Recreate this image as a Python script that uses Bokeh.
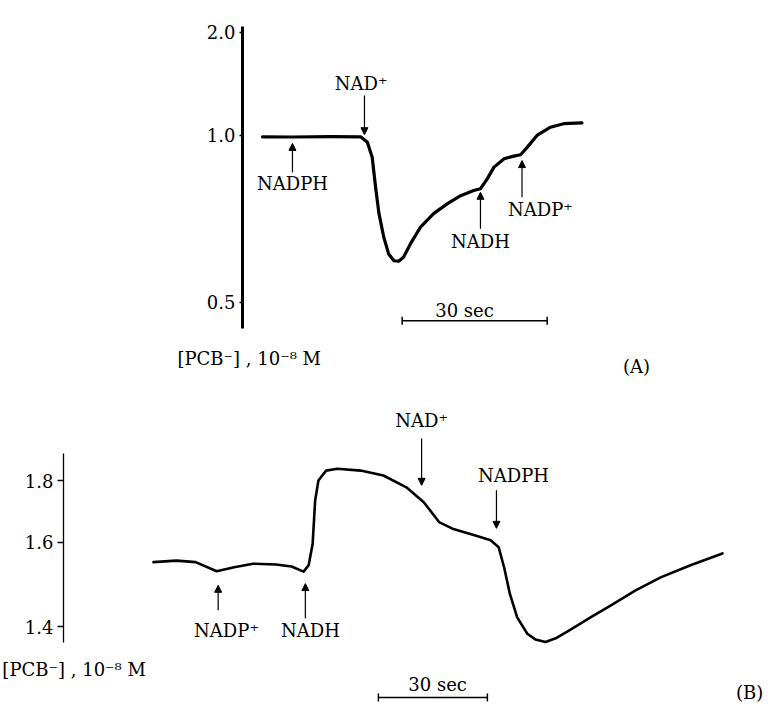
import numpy as np
from bokeh.plotting import figure
from bokeh.layouts import column
from bokeh.models import (Range1d, FixedTicker, CustomJSTickFormatter, Label,
                          Arrow, NormalHead, TeeHead, LinearAxis)
from bokeh.embed import file_html
from bokeh.resources import INLINE

FONT = "DejaVu Serif"
FSIZE = "18px"

# ---------------- data: panel A ----------------
a_time = [0, 6.2, 14.1, 20.3, 21.7, 22.7, 23.4, 24.1, 25.1, 26.1, 27.2, 28.2,
          29.2, 30.6, 32.7, 35.4, 38.2, 41.0, 43.7, 45.1, 46.5, 47.9, 50.0,
          52.0, 53.4, 54.8, 56.8, 59.6, 62.3, 66.1]
a_conc = [0.993, 0.992, 0.994, 0.993, 0.966, 0.896, 0.780, 0.697, 0.634, 0.595,
          0.580, 0.579, 0.588, 0.618, 0.660, 0.697, 0.726, 0.752, 0.769, 0.775,
          0.810, 0.855, 0.890, 0.901, 0.907, 0.942, 1.000, 1.045, 1.065, 1.070]
a_ticks = [0.5, 1.0, 2.0]
a_events = ["NADPH", "NAD⁺", "NADH", "NADP⁺"]
a_event_time = [6.2, 21.1, 45.1, 53.7]

# ---------------- data: panel B ----------------
b_time = [0, 6.3, 11.6, 17.4, 22.2, 27.4, 33.7, 38.0, 41.3, 42.7, 43.8, 44.5,
          45.4, 47.5, 50.6, 57.0, 63.3, 69.6, 74.4, 78.6, 82.3, 88.6, 92.8,
          95.0, 96.5, 98.1, 100.1, 102.9, 105.1, 107.9, 110.7, 114.8, 120.3,
          125.8, 132.7, 139.6, 147.8, 156.6]
b_conc = [1.547, 1.551, 1.547, 1.524, 1.534, 1.543, 1.541, 1.536, 1.523, 1.539,
          1.596, 1.730, 1.801, 1.839, 1.846, 1.839, 1.820, 1.776, 1.724, 1.660,
          1.640, 1.620, 1.606, 1.587, 1.534, 1.470, 1.419, 1.386, 1.375, 1.370,
          1.377, 1.394, 1.419, 1.444, 1.478, 1.509, 1.539, 1.570]
b_ticks = [1.4, 1.6, 1.8]
b_events = ["NADP⁺", "NADH", "NAD⁺", "NADPH"]
b_event_time = [17.8, 41.8, 73.8, 94.4]

SCALE_SEC = 30
Y_LABEL = "[PCB⁻] , 10⁻⁸ M"

# recorder scales are reciprocal in concentration (with an offset)
A_OFF = 0.17
B_OFF = -0.3


def recip(v, off):
    return -1.0 / (np.asarray(v, dtype=float) + off)


def base_fig(height, xr, yr):
    p = figure(width=768, height=height, output_backend="svg",
               toolbar_location=None, x_range=xr, y_range=yr,
               x_axis_location=None, y_axis_location=None, min_border=0,
               outline_line_color=None, background_fill_color="white",
               border_fill_color="white")
    p.grid.visible = False
    return p


def add_axis(p, at, off, ticks, bounds, lw, tick_out):
    ax = LinearAxis(fixed_location=at)
    ax.ticker = FixedTicker(ticks=list(recip(ticks, off)))
    ax.formatter = CustomJSTickFormatter(
        code="return (-1/tick - (%r)).toFixed(1);" % off)
    ax.bounds = tuple(float(b) for b in recip(bounds, off))
    ax.axis_line_width = lw
    ax.axis_line_color = "black"
    ax.major_tick_out = tick_out
    ax.major_tick_in = 0
    ax.major_tick_line_width = 1.5
    ax.minor_tick_out = 0
    ax.minor_tick_in = 0
    ax.major_label_standoff = 4
    ax.major_label_text_font = FONT
    ax.major_label_text_font_size = FSIZE
    ax.major_label_text_color = "black"
    p.add_layout(ax, "left")


def text(p, x, y, s, off, align="center", baseline="middle"):
    p.add_layout(Label(x=x, y=float(recip(y, off)), text=s, text_font=FONT,
                       text_font_size=FSIZE, text_color="black",
                       text_align=align, text_baseline=baseline))


def event_arrow(p, t, v_tail, v_tip, off, lw=1.2):
    p.add_layout(Arrow(x_start=t, y_start=float(recip(v_tail, off)),
                       x_end=t, y_end=float(recip(v_tip, off)),
                       line_width=lw, line_color="black",
                       end=NormalHead(size=7, fill_color="black",
                                      line_color="black", line_width=1)))


def scale_bar(p, t0, v, off):
    y = float(recip(v, off))
    p.add_layout(Arrow(x_start=t0, y_start=y, x_end=t0 + SCALE_SEC, y_end=y,
                       line_width=1.5, line_color="black",
                       start=TeeHead(size=8, line_width=1.5),
                       end=TeeHead(size=8, line_width=1.5)))


# ---------------- panel A ----------------
pa = base_fig(382, Range1d(-54.21, 104.70),
              Range1d(float(recip(0.386, A_OFF)), float(recip(2.78, A_OFF))))
add_axis(pa, -4.14, A_OFF, a_ticks, (0.458, 2.12), 3, 3)
pa.line(a_time, recip(a_conc, A_OFF), line_color="black", line_width=3.2,
        line_join="round", line_cap="round")

# arrows: (tail, tip) concentrations and label placement (time, conc)
a_arrows = [(0.834, 0.960, 6.2, 0.793),
            (1.255, 1.004, 20.4, 1.355),
            (0.656, 0.763, 45.1, 0.624),
            (0.747, 0.882, 57.5, 0.709)]
for name, t, (tail, tip, lx, ly) in zip(a_events, a_event_time, a_arrows):
    event_arrow(pa, t, tail, tip, A_OFF)
    text(pa, lx, ly, name, A_OFF)

scale_bar(pa, 28.9, 0.470, A_OFF)
text(pa, 41.8, 0.487, "30 sec", A_OFF)
text(pa, -17.6, 0.416, Y_LABEL, A_OFF, align="left")
text(pa, 77.4, 0.4055, "(A)", A_OFF)

# ---------------- panel B ----------------
pb = base_fig(322, Range1d(-42.11, 169.28),
              Range1d(float(recip(1.263, B_OFF)), float(recip(2.2865, B_OFF))))
add_axis(pb, -24.77, B_OFF, b_ticks, (1.369, 1.909), 1.3, 6)
pb.line(b_time, recip(b_conc, B_OFF), line_color="black", line_width=2.6,
        line_join="round", line_cap="round")

b_arrows = [(1.434, 1.490, 20.1, 1.392),
            (1.417, 1.494, 43.2, 1.392),
            (1.977, 1.783, 73.8, 2.065),
            (1.765, 1.641, 99.1, 1.820)]
for name, t, (tail, tip, lx, ly) in zip(b_events, b_event_time, b_arrows):
    event_arrow(pb, t, tail, tip, B_OFF)
    text(pb, lx, ly, name, B_OFF)

scale_bar(pb, 61.9, 1.274, B_OFF)
text(pb, 78.2, 1.295, "30 sec", B_OFF)
text(pb, -41.6, 1.320, Y_LABEL, B_OFF, align="left")
text(pb, 164.1, 1.282, "(B)", B_OFF)

layout = column(pa, pb, spacing=0)
open("out.html", "w").write(file_html(layout, INLINE))
